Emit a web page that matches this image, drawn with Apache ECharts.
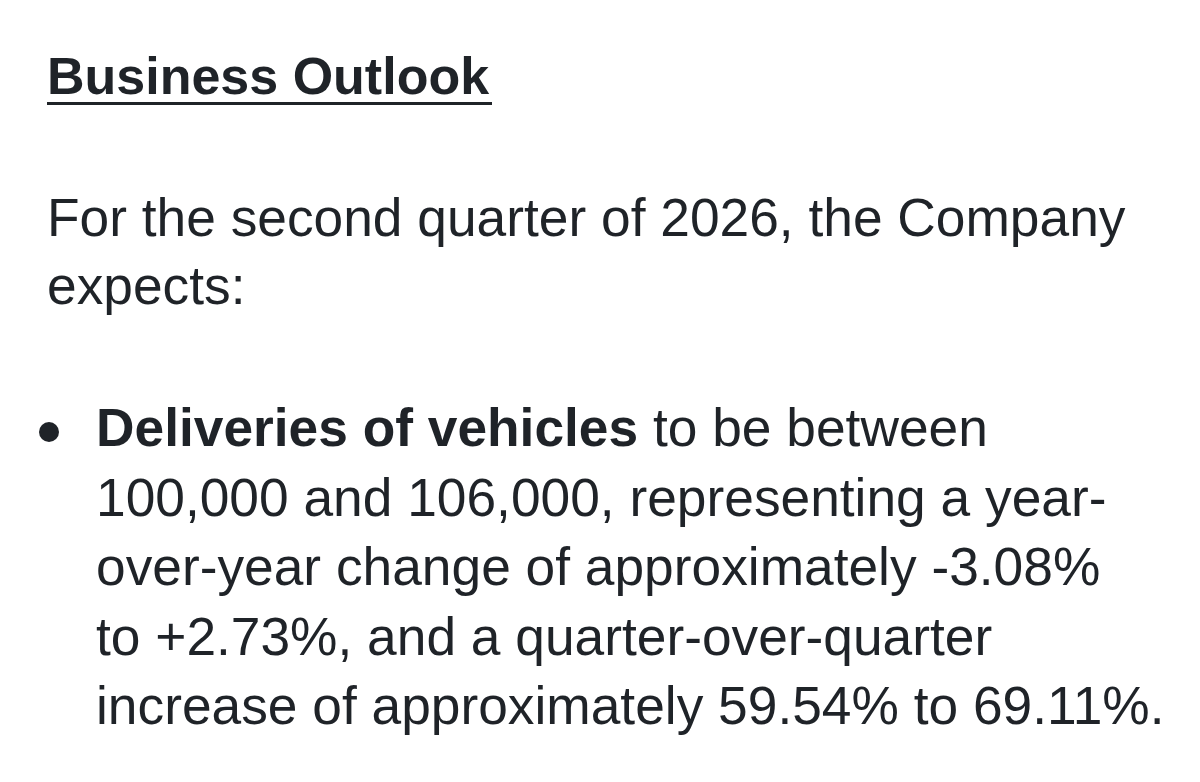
<!DOCTYPE html>
<html><head><meta charset="utf-8">
<script src="https://cdn.jsdelivr.net/npm/echarts@6/dist/echarts.min.js"></script>
<style>html,body{margin:0;padding:0;background:#fff}#c{width:1200px;height:782px}</style>
</head><body><div id="c"></div>
<script>
var titleText = 'Business Outlook';
var introLines = ['For the second quarter of 2026, the Company', 'expects:'];
var bulletBold = 'Deliveries of vehicles';
var bulletLines = [
  ' to be between',
  '100,000 and 106,000, representing a year-',
  'over-year change of approximately -3.08%',
  'to +2.73%, and a quarter-over-quarter',
  'increase of approximately 59.54% to 69.11%.'
];
var C = '#1f2328';
var FONT = '"Liberation Sans", Arial, sans-serif';
var FS = 53.3;
var MID = 0.3465;
var chart = echarts.init(document.getElementById('c'));
var g = [];
g.push({type:'text', x:47, y:98 - MID*52, style:{text:titleText, fontFamily:FONT, fontWeight:'bold', fontSize:52, fill:C, verticalAlign:'middle'}});
g.push({type:'rect', shape:{x:47, y:102, width:445, height:3}, style:{fill:C}});
introLines.forEach(function(t,i){
  g.push({type:'text', x:47, y:240 + i*68 - MID*FS, style:{text:t, fontFamily:FONT, fontSize:FS, fill:C, verticalAlign:'middle'}});
});
g.push({type:'circle', shape:{cx:49, cy:432, r:10}, style:{fill:C}});
bulletLines.forEach(function(t,i){
  var txt = i===0 ? '{b|'+bulletBold+'}{n|'+t+'}' : '{n|'+t+'}';
  g.push({type:'text', x:96, y:450 + i*69.5 - MID*FS, style:{text:txt, fill:C, verticalAlign:'middle',
    rich:{b:{fontFamily:FONT, fontWeight:'bold', fontSize:FS, fill:C}, n:{fontFamily:FONT, fontSize:FS, fill:C}}}});
});
chart.setOption({backgroundColor:'#fff', graphic:g});
</script></body></html>
